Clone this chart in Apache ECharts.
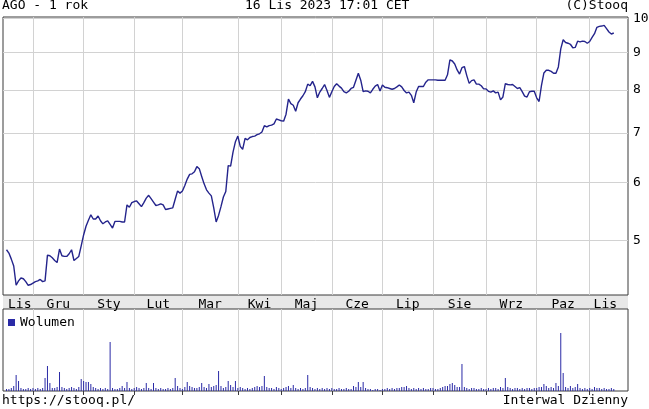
<!DOCTYPE html>
<html><head><meta charset="utf-8">
<script src="https://cdn.jsdelivr.net/npm/echarts@6/dist/echarts.min.js"></script>
<style>html,body{margin:0;padding:0;background:#fff}#c{width:649px;height:409px}</style>
</head><body><div id="c"></div>
<script>
// Daily close prices (trading days 16 Nov 2022 - 16 Nov 2023)
const prices = [
4.86,4.81,4.72,4.62,4.35,4.41,4.45,4.44,4.40,4.35,
4.36,4.38,4.40,4.41,4.43,4.40,4.41,4.78,4.77,4.74,
4.70,4.67,4.87,4.77,4.76,4.76,4.80,4.86,4.70,4.73,
4.76,4.92,5.09,5.23,5.33,5.42,5.35,5.35,5.40,5.32,
5.27,5.30,5.32,5.26,5.20,5.31,5.31,5.31,5.30,5.30,
5.59,5.55,5.63,5.65,5.66,5.61,5.56,5.63,5.71,5.76,
5.70,5.64,5.58,5.59,5.61,5.59,5.51,5.52,5.53,5.54,
5.69,5.84,5.80,5.84,5.94,6.06,6.15,6.16,6.20,6.30,
6.26,6.11,5.97,5.86,5.80,5.75,5.54,5.30,5.41,5.56,
5.73,5.83,6.32,6.31,6.59,6.81,6.93,6.71,6.65,6.88,
6.85,6.90,6.92,6.93,6.96,6.98,7.02,7.16,7.13,7.16,
7.17,7.20,7.31,7.29,7.27,7.26,7.42,7.78,7.67,7.63,
7.49,7.69,7.78,7.86,7.96,8.15,8.11,8.22,8.08,7.81,
7.95,8.04,8.14,7.99,7.82,7.96,8.09,8.16,8.10,8.05,
7.96,7.93,7.97,8.04,8.07,8.25,8.43,8.25,7.96,7.98,
7.97,7.93,8.02,8.10,8.14,7.98,8.13,8.07,8.06,8.04,
8.02,8.04,8.08,8.13,8.08,7.99,7.93,7.95,7.87,7.69,
7.95,8.09,8.09,8.09,8.20,8.26,8.26,8.26,8.26,8.25,
8.25,8.25,8.25,8.39,8.79,8.76,8.68,8.52,8.41,8.58,
8.61,8.37,8.17,8.24,8.26,8.15,8.15,8.11,8.03,8.03,
7.97,7.95,7.98,7.93,7.95,7.76,7.83,8.16,8.14,8.13,
8.14,8.09,8.04,8.06,7.96,7.85,7.83,7.96,7.97,7.97,
7.81,7.72,8.12,8.44,8.51,8.51,8.48,8.43,8.43,8.60,
9.10,9.36,9.28,9.26,9.23,9.13,9.14,9.32,9.30,9.32,
9.31,9.26,9.31,9.43,9.54,9.73,9.76,9.77,9.79,9.69,
9.59,9.53,9.56
];
// Daily volume (relative units)
const volumes = [
2,2,3,5,16,10,3,2,2,3,
2,3,2,3,2,3,13,25,8,3,
3,4,19,4,3,2,3,4,3,2,
4,12,10,9,9,7,4,3,2,3,
2,3,2,49,3,2,2,3,5,3,
9,3,2,3,4,3,2,3,8,3,
2,8,3,2,3,2,2,3,2,3,
13,5,3,2,4,9,5,4,3,3,
4,8,4,3,7,4,5,6,20,5,
3,4,10,6,4,10,3,4,3,2,
3,2,3,4,5,4,5,15,4,3,
3,2,4,3,2,3,4,5,3,6,
3,2,3,2,3,16,4,3,2,3,
2,3,2,3,2,3,2,2,3,2,
2,3,2,2,5,4,9,4,9,3,
2,2,1,2,2,1,2,2,3,2,
3,2,3,3,4,4,5,3,2,3,
2,3,2,3,2,2,3,3,2,2,
3,4,5,5,7,8,6,4,4,27,
4,3,2,3,3,2,2,3,2,2,
3,2,3,3,2,4,3,13,4,3,
2,3,3,2,3,2,3,3,2,3,
3,4,4,7,5,3,4,3,8,5,
58,18,4,3,5,3,4,7,3,2,
3,2,3,2,4,3,3,2,3,2,
2,3,2
];
// index of first trading day of each month shown
const monthStarts = [0,11,32,53,73,96,114,135,156,177,199,220,242];
const monthNames = ['Lis','Gru','Sty','Lut','Mar','Kwi','Maj','Cze','Lip','Sie','Wrz','Paz','Lis'];
const priceTicks = [5,6,7,8,9,10];
const titleLeft = 'AGO - 1 rok';
const titleCenter = '16 Lis 2023 17:01 CET';
const titleRight = '(C)Stooq';
const footLeft = 'https://stooq.pl/';
const footRight = 'Interwal Dzienny';
const volumeName = 'Wolumen';

const FONT = 'DejaVu Sans Mono';
const gridStarts = monthStarts.slice(1);
const bounds = monthStarts.concat([prices.length + 2]);
const labelPos = monthNames.map((n, k) => (bounds[k] + bounds[k + 1]) / 2);
const xMin = -1.45, xMax = 257.9;
const gridColor = '#d2d2d2';
const borderColor = '#3a3a3a';

const priceData = prices.map((p, i) => [i, p]);
const volData = volumes.map((v, i) => [i, v]);

const vLines = gridStarts.map(v => ({xAxis: v, label: {show: false}}));
const hLines = priceTicks.map(v => ({yAxis: v}));

const chart = echarts.init(document.getElementById('c'), null, {renderer: 'canvas'});
const txt = {fontFamily: FONT, fontSize: 13, color: '#000', fontWeight: 'normal'};

function xAx(grid, pos, withLabels) {
  return {
    type: 'value', gridIndex: grid, min: xMin, max: xMax, position: pos,
    axisLine: {show: false},
    axisTick: {show: true, inside: true, length: 4, customValues: gridStarts,
               lineStyle: {color: borderColor, width: 1}},
    axisLabel: withLabels ? {
      show: true, customValues: labelPos, margin: 3,
      fontFamily: FONT, fontSize: 13, color: '#000',
      formatter: v => { const k = labelPos.findIndex(p => Math.abs(p - v) < 1e-6); return k >= 0 ? monthNames[k] : ''; }
    } : {show: false},
    splitLine: {show: false}
  };
}

chart.setOption({
  animation: false,
  backgroundColor: '#fff',
  title: [
    {text: titleLeft, left: 2, top: -1, padding: 0, textStyle: txt},
    {text: titleCenter, left: 245, top: -1, padding: 0, textStyle: txt},
    {text: titleRight, right: 21, top: -1, padding: 0, textStyle: txt},
    {text: footLeft, left: 2, top: 394, padding: 0, textStyle: txt},
    {text: footRight, right: 21, top: 394, padding: 0, textStyle: txt}
  ],
  legend: {
    data: [{name: volumeName, icon: 'rect'}],
    left: 8, top: 316, padding: 0, itemWidth: 7, itemHeight: 7,
    textStyle: {fontFamily: FONT, fontSize: 13, color: '#000'},
    selectedMode: false
  },
  grid: [
    {left: 3, right: 21, top: 17, height: 278, show: true, borderColor: borderColor, borderWidth: 1, backgroundColor: 'transparent'},
    {left: 3, right: 21, top: 309, height: 82, show: true, borderColor: borderColor, borderWidth: 1, backgroundColor: 'transparent'},
    {left: 3, right: 21, top: 295, height: 14, show: true, borderWidth: 0, backgroundColor: '#e8e8e8', z: -1}
  ],
  xAxis: [
    xAx(0, 'bottom', true),
    xAx(0, 'top', false),
    xAx(1, 'top', false),
    xAx(1, 'bottom', false),
    {type: 'value', gridIndex: 2, show: false, min: 0, max: 1}
  ],
  yAxis: [
    {type: 'log', gridIndex: 0, min: 4.22, max: 10.05, position: 'right',
     axisLine: {show: false}, axisTick: {show: false}, axisLabel: {show: false}, splitLine: {show: false}},
    {type: 'value', gridIndex: 1, min: 0, max: 82, show: false},
    {type: 'value', gridIndex: 2, show: false, min: 0, max: 1}
  ],
  series: [
    {
      type: 'line', name: 'Kurs', xAxisIndex: 0, yAxisIndex: 0, data: priceData,
      symbol: 'none', z: 3,
      lineStyle: {color: '#24248c', width: 1.4},
      markLine: {
        silent: true, symbol: 'none', z: 1, animation: false,
        lineStyle: {color: gridColor, type: 'solid', width: 1},
        label: {show: true, position: 'end', distance: 5, formatter: p => String(p.value),
                fontFamily: FONT, fontSize: 13, color: '#000'},
        emphasis: {disabled: true},
        data: hLines.concat(vLines)
      }
    },
    {
      type: 'bar', name: volumeName, xAxisIndex: 2, yAxisIndex: 1, data: volData,
      barWidth: 1, itemStyle: {color: '#2a2aa6'}, z: 3,
      markLine: {
        silent: true, symbol: 'none', z: 1, animation: false,
        lineStyle: {color: gridColor, type: 'solid', width: 1},
        emphasis: {disabled: true},
        data: vLines
      }
    }
  ]
});
</script>
</body></html>
